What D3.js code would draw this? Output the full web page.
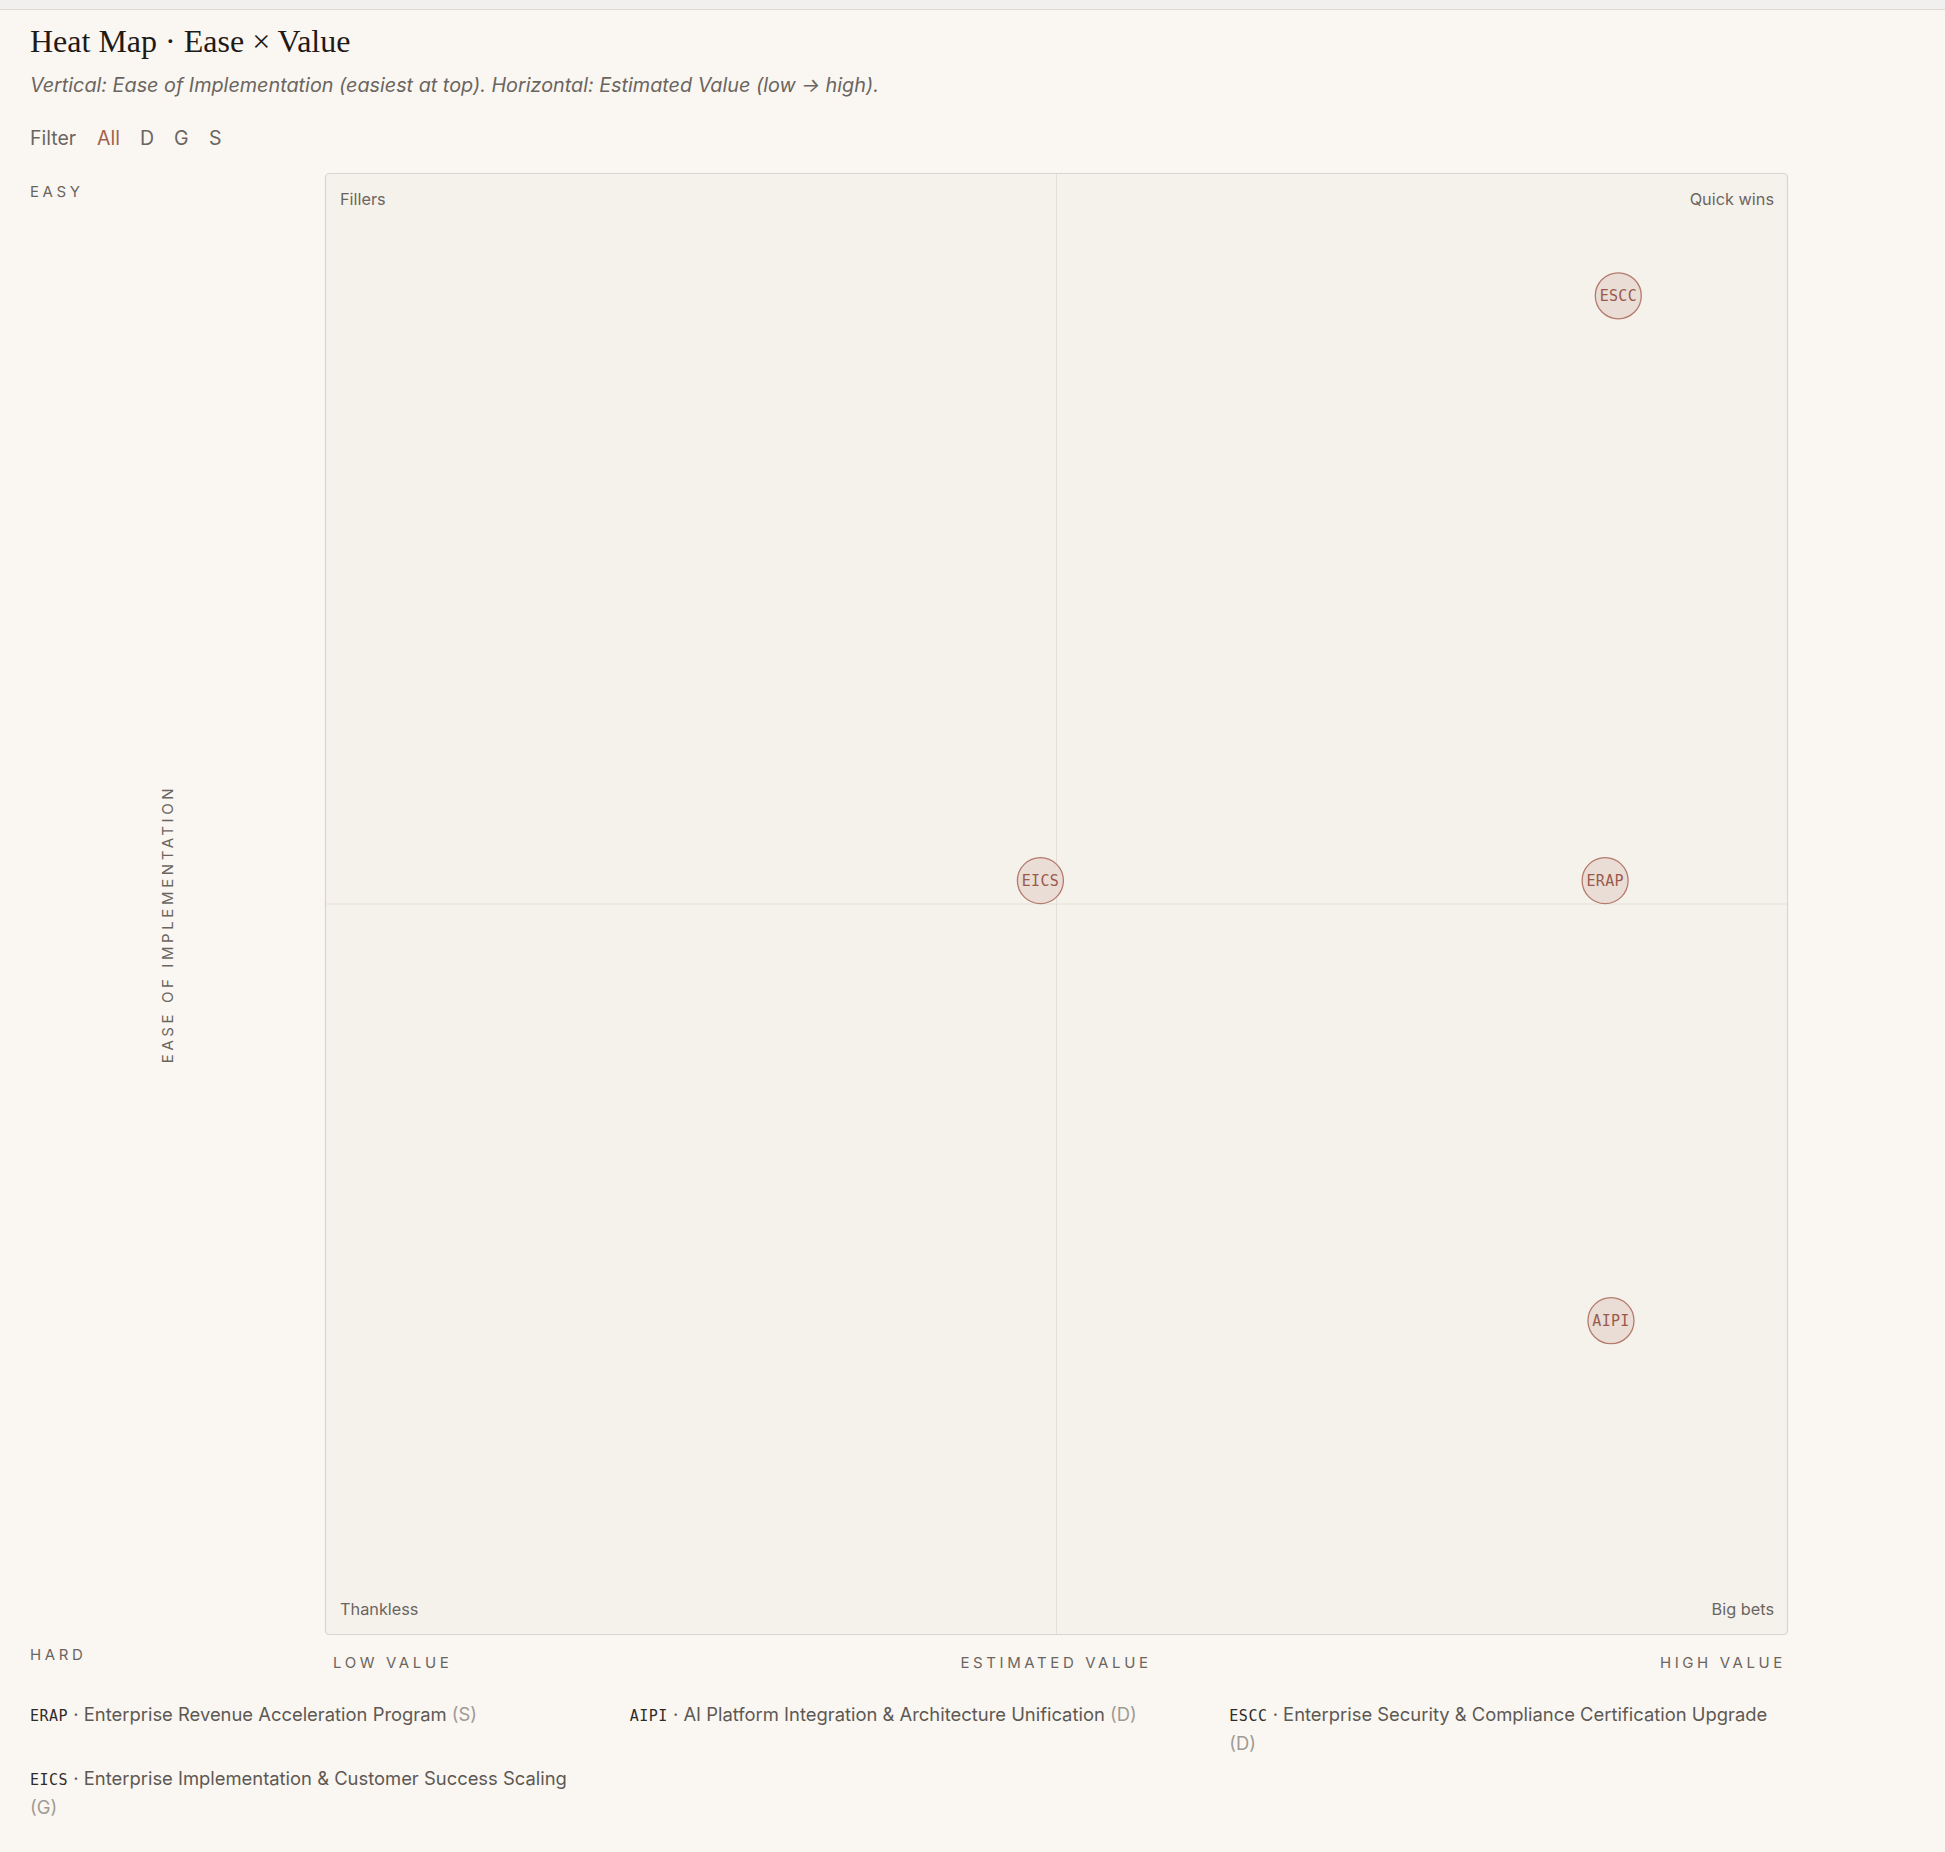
<!DOCTYPE html>
<html>
<head>
<meta charset="utf-8">
<script src="https://cdn.jsdelivr.net/npm/d3@7"></script>
<style>
  html, body { margin: 0; padding: 0; background: #faf7f2; }
  body { width: 1945px; height: 1852px; position: relative; overflow: hidden; font-family: Inter, "Noto Sans", sans-serif; }
  #legend { position: absolute; left: 30px; top: 1701px; width: 1759px; display: grid; grid-template-columns: repeat(3, 1fr); column-gap: 40px; row-gap: 8px; }
  .item { font-size: 18.4px; line-height: 27px; color: #5e5954; }
  .item .code { font-family: "DejaVu Sans Mono", "Liberation Mono", monospace; font-size: 15px; color: #2f2b28; letter-spacing: 0.5px; }
  .item .cat { color: #a09a94; }
</style>
</head>
<body>
<svg id="chart" width="1945" height="1852"></svg>
<div id="legend"></div>
<script>
// ---- data ----
const codes = ["ERAP", "AIPI", "ESCC", "EICS"];
const names = [
  "Enterprise Revenue Acceleration Program",
  "AI Platform Integration & Architecture Unification",
  "Enterprise Security & Compliance Certification Upgrade",
  "Enterprise Implementation & Customer Success Scaling"
];
const groups = ["S", "D", "D", "G"];
const valueScores = [8.75, 8.79, 8.84, 4.89];   // estimated value (0-10)
const easeScores = [5.16, 2.15, 9.16, 5.16];    // ease of implementation (0-10)
const filterOptions = ["All", "D", "G", "S"];
const quadrantLabels = ["Fillers", "Quick wins", "Thankless", "Big bets"];

const items = codes.map((c, i) => ({ code: c, name: names[i], group: groups[i], value: valueScores[i], ease: easeScores[i] }));

const svg = d3.select("#chart");

// top strip
svg.append("rect").attr("x", 0).attr("y", 0).attr("width", 1945).attr("height", 9).attr("fill", "#f1f0ee");
svg.append("line").attr("x1", 0).attr("x2", 1945).attr("y1", 9.5).attr("y2", 9.5).attr("stroke", "#dedbd7");

// title + subtitle
svg.append("text").attr("x", 30).attr("y", 52)
  .attr("font-family", "'Liberation Serif', 'DejaVu Serif', serif").attr("font-size", 32)
  .attr("fill", "#1f1a17").text("Heat Map · Ease × Value");
svg.append("text").attr("x", 30).attr("y", 92)
  .attr("font-family", "Inter, sans-serif").attr("font-size", 19.8).attr("font-style", "italic")
  .attr("fill", "#6b6560")
  .text("Vertical: Ease of Implementation (easiest at top). Horizontal: Estimated Value (low → high).");

// filter row
const filterX = [30, 97, 140, 174, 209];
svg.append("text").attr("x", filterX[0]).attr("y", 145).attr("font-family", "Inter, sans-serif")
  .attr("font-size", 19.5).attr("fill", "#6b6560").text("Filter");
svg.selectAll("text.filt").data(filterOptions).join("text").attr("class", "filt")
  .attr("x", (d, i) => filterX[i + 1]).attr("y", 145)
  .attr("font-family", "Inter, sans-serif").attr("font-size", 19.5)
  .attr("fill", (d, i) => i === 0 ? "#a3604c" : "#6b6560").text(d => d);

// plot
const L = 325, R = 1788, T = 173, B = 1635;
const x = d3.scaleLinear().domain([0, 10]).range([L, R]);
const y = d3.scaleLinear().domain([0, 10]).range([B, T]);

svg.append("rect").attr("x", L + 0.5).attr("y", T + 0.5).attr("width", R - L - 1).attr("height", B - T - 1)
  .attr("rx", 4).attr("fill", "#f5f2ec").attr("stroke", "#d9d4cd").attr("stroke-width", 1.2);
svg.append("line").attr("x1", x(5)).attr("x2", x(5)).attr("y1", T + 1).attr("y2", B - 1)
  .attr("stroke", "#e4dfd8").attr("stroke-width", 1);
svg.append("line").attr("x1", L + 1).attr("x2", R - 1).attr("y1", y(5)).attr("y2", y(5))
  .attr("stroke", "#e4dfd8").attr("stroke-width", 1);

// quadrant labels
const qpos = [
  { x: L + 15, y: T + 32, a: "start" },
  { x: R - 14, y: T + 32, a: "end" },
  { x: L + 15, y: B - 20, a: "start" },
  { x: R - 14, y: B - 20, a: "end" }
];
svg.selectAll("text.q").data(quadrantLabels).join("text").attr("class", "q")
  .attr("x", (d, i) => qpos[i].x).attr("y", (d, i) => qpos[i].y).attr("text-anchor", (d, i) => qpos[i].a)
  .attr("font-family", "Inter, sans-serif").attr("font-size", 16.3).attr("fill", "#6b6560").text(d => d);

// axis labels
const axisFont = { ff: "Inter, sans-serif", fs: 15, ls: 3.6, fill: "#6b6560" };
function axisText(txt, tx, ty, anchor, rot) {
  const t = svg.append("text").attr("x", tx).attr("y", ty).attr("text-anchor", anchor)
    .attr("font-family", axisFont.ff).attr("font-size", axisFont.fs).attr("letter-spacing", axisFont.ls)
    .attr("fill", axisFont.fill).text(txt);
  if (rot) t.attr("transform", `rotate(-90, ${tx}, ${ty})`);
  return t;
}
axisText("EASY", 30, 197, "start");
axisText("HARD", 30, 1660, "start");
axisText("LOW VALUE", 333, 1668, "start");
axisText("ESTIMATED VALUE", 1056, 1668, "middle");
axisText("HIGH VALUE", 1786, 1668, "end");
axisText("EASE OF IMPLEMENTATION", 173, 924, "middle", true);

// points
const pts = svg.append("g").selectAll("g").data(items).join("g")
  .attr("transform", d => `translate(${x(d.value)},${y(d.ease)})`);
pts.append("circle").attr("r", 23).attr("fill", "#eaddd6").attr("stroke", "#b47b6d").attr("stroke-width", 1.3);
pts.append("text").attr("text-anchor", "middle").attr("dy", "0.36em")
  .attr("font-family", "'DejaVu Sans Mono', 'Liberation Mono', monospace").attr("font-size", 15)
  .attr("letter-spacing", 0.3)
  .attr("fill", "#9a5a4b").text(d => d.code);

// legend
const leg = d3.select("#legend").selectAll("div").data(items).join("div").attr("class", "item");
leg.append("span").attr("class", "code").text(d => d.code);
leg.append("span").text(d => " · " + d.name + " ");
leg.append("span").attr("class", "cat").text(d => "(" + d.group + ")");
</script>
</body>
</html>
